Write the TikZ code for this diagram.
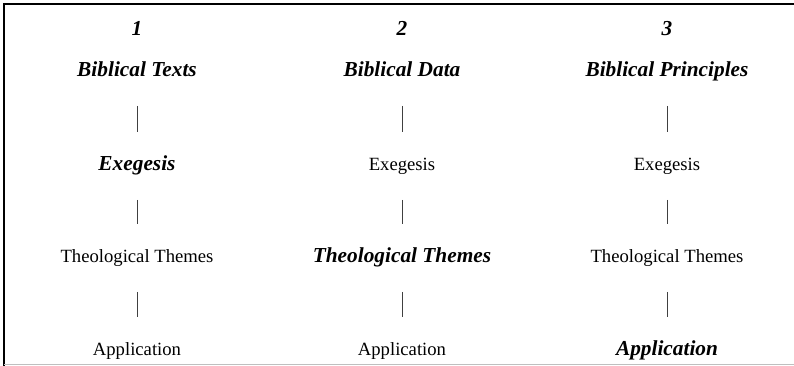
\documentclass[tikz,border=0pt]{standalone}
\usepackage{fontspec}
\setmainfont{Liberation Serif}
\usepackage{tikz}

\begin{document}
\begin{tikzpicture}[x=0.75pt,y=-0.75pt,
        plain/.style={inner sep=0pt,anchor=base,font=\fontsize{14}{16}\selectfont},
        hi/.style={inner sep=0pt,anchor=base,font=\fontsize{16}{18}\selectfont\bfseries\itshape},
        bar/.style={draw=black!75,line width=0.6pt,shorten <=21.75pt,shorten >=29.5pt}]
        \useasboundingbox (0,0) rectangle (794,366);
        % frame
        \draw[line width=1.9pt] (4,366) -- (4,4) -- (794,4);
        \draw[black!25,line width=0.8pt] (4,364.5) -- (794,364.5);
        \path
        % column 1
        +(137, 36)  node[hi]    (n1)  {1}
        +(137, 77)  node[hi]    (t1)  {Biblical Texts}
        +(137, 171) node[hi]    (e1)  {Exegesis}
        +(137, 263) node[plain] (th1) {Theological Themes}
        +(137, 356) node[plain] (a1)  {Application}
        % column 2
        +(402, 36)  node[hi]    (n2)  {2}
        +(402, 77)  node[hi]    (t2)  {Biblical Data}
        +(402, 171) node[plain] (e2)  {Exegesis}
        +(402, 263) node[hi]    (th2) {Theological Themes}
        +(402, 356) node[plain] (a2)  {Application}
        % column 3
        +(667, 36)  node[hi]    (n3)  {3}
        +(667, 77)  node[hi]    (t3)  {Biblical Principles}
        +(667, 171) node[plain] (e3)  {Exegesis}
        +(667, 263) node[plain] (th3) {Theological Themes}
        +(667, 356) node[hi]    (a3)  {Application};
        \draw[bar] (t1.base)--(e1.base);
        \draw[bar] (e1.base)--(th1.base);
        \draw[bar] (th1.base)--(a1.base);

        \draw[bar] (t2.base)--(e2.base);
        \draw[bar] (e2.base)--(th2.base);
        \draw[bar] (th2.base)--(a2.base);

        \draw[bar] (t3.base)--(e3.base);
        \draw[bar] (e3.base)--(th3.base);
        \draw[bar] (th3.base)--(a3.base);
    \end{tikzpicture}
\end{document}
